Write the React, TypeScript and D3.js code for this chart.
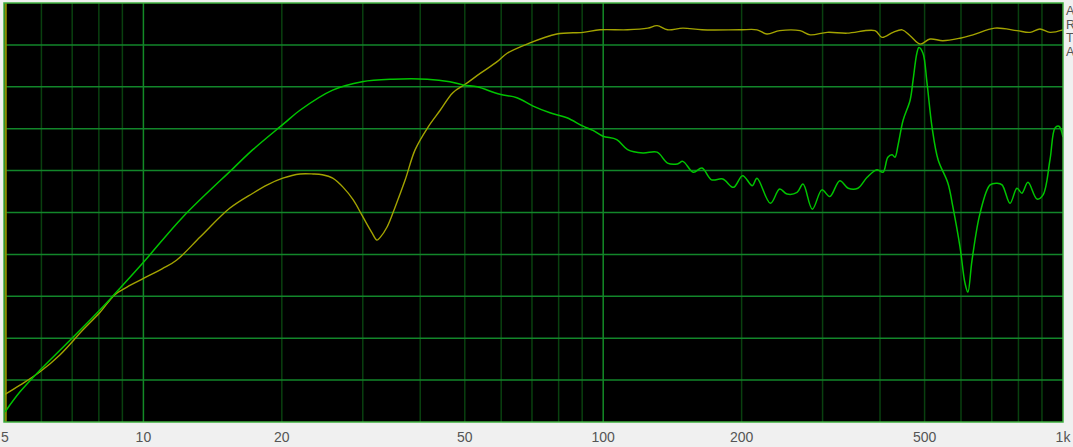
import React from "react";
import * as d3 from "d3";

// Frequency (Hz) / level (dB) readings
const greenFreq = [5, 5.39, 5.96, 6.82, 8.05, 8.67, 9.98, 12.2, 15.7, 17.3, 20.2, 21.9, 25.8, 29.9, 34.9, 41.4, 46.4, 49.8, 53.2, 59.6, 64.9, 70.4, 76.6, 83.4, 90.4, 95.0, 99.9, 107, 113, 122, 131, 138, 145, 149, 157, 164, 172, 182, 192, 201, 211, 216, 231, 242, 251, 264, 272, 285, 299, 311, 327, 341, 358, 375, 394, 406, 416, 425, 431, 438, 449, 465, 472, 481, 486, 496, 506, 519, 535, 562, 576, 597, 612, 621, 634, 660, 694, 719, 737, 767, 794, 814, 839, 878, 905, 937, 961, 980, 1000];
const greenDb = [51.2, 53.6, 56.2, 59.4, 63.4, 65.3, 69.0, 74.5, 80.3, 82.5, 85.6, 87.2, 89.6, 90.6, 90.9, 90.9, 90.6, 90.2, 90.0, 89.1, 88.7, 87.7, 86.9, 86.3, 85.3, 84.8, 84.1, 83.7, 82.5, 82.1, 82.2, 80.9, 80.8, 81.1, 79.8, 80.3, 78.9, 79.0, 78.0, 79.4, 78.2, 79.1, 76.1, 77.8, 77.2, 77.4, 78.4, 75.4, 77.7, 76.9, 78.8, 77.9, 77.9, 79.2, 80.1, 79.8, 81.6, 81.9, 81.6, 83.1, 86.0, 88.4, 90.8, 94.0, 94.7, 94.0, 90.5, 85.2, 81.3, 78.5, 75.7, 70.9, 66.6, 65.5, 69.3, 74.9, 78.3, 78.5, 78.3, 76.1, 77.9, 77.3, 78.6, 76.6, 77.1, 81.3, 85.1, 85.3, 84.0];

const yellowFreq = [5, 5.39, 5.96, 6.58, 7.39, 8.05, 8.67, 9.21, 9.98, 11.0, 11.8, 13.3, 15.4, 17.3, 18.6, 20.1, 21.9, 23.4, 24.5, 25.8, 27.2, 28.6, 30.0, 31.4, 32.2, 32.7, 33.9, 35.3, 37.1, 39.0, 41.6, 44.2, 47.1, 50.1, 54.0, 58.8, 61.8, 68.3, 79.3, 90.4, 98.4, 113, 125, 131, 138, 149, 164, 198, 216, 227, 242, 268, 282, 307, 339, 390, 404, 427, 447, 465, 489, 514, 548, 597, 637, 711, 794, 848, 891, 937, 1000];
const yellowDb = [53.3, 54.4, 56.0, 58.0, 61.0, 63.1, 65.2, 66.1, 67.1, 68.3, 69.3, 72.1, 75.5, 77.3, 78.3, 79.1, 79.6, 79.6, 79.5, 79.1, 78.0, 76.5, 74.5, 72.6, 71.7, 72.0, 73.3, 75.7, 78.9, 82.5, 85.2, 87.2, 89.3, 90.3, 91.6, 93.0, 94.0, 95.1, 96.3, 96.5, 96.8, 96.8, 97.0, 97.3, 96.8, 97.0, 96.8, 96.8, 96.8, 96.3, 96.7, 96.7, 96.2, 96.5, 96.4, 96.7, 95.9, 96.5, 96.8, 96.1, 95.1, 95.7, 95.5, 95.8, 96.2, 97.0, 96.7, 96.5, 96.9, 96.5, 96.8];

const tickLabels = [
  { f: 5, t: "5" },
  { f: 10, t: "10" },
  { f: 20, t: "20" },
  { f: 50, t: "50" },
  { f: 100, t: "100" },
  { f: 200, t: "200" },
  { f: 500, t: "500" },
  { f: 1000, t: "1k" },
];
const gridFreqs = [6, 7, 8, 9, 10, 20, 30, 40, 50, 60, 70, 80, 90, 100, 200, 300, 400, 500, 600, 700, 800, 900];
const majorFreqs = [10, 100];
const gridDb = [55, 60, 65, 70, 75, 80, 85, 90, 95];
const sideLetters = ["A", "R", "T", "A"];

export default function App() {
  const W = 1073, H = 447;
  const left = 5, right = 1063, top = 3, bottom = 422;
  const x = d3.scaleLog().domain([5, 1000]).range([left, right]);
  const y = d3.scaleLinear().domain([50, 100]).range([bottom, top]);
  const line = d3
    .line<[number, number]>()
    .x((d) => x(d[0]))
    .y((d) => y(d[1]))
    .curve(d3.curveCatmullRom.alpha(0.5));
  const green = greenFreq.map((f, i) => [f, greenDb[i]] as [number, number]);
  const yellow = yellowFreq.map((f, i) => [f, yellowDb[i]] as [number, number]);

  return (
    <svg width={W} height={H} style={{ position: "absolute", left: 0, top: 0 }}>
      <rect x={0} y={0} width={W} height={H} fill="#f0f0f0" />
      <rect x={left - 1} y={top} width={right - left + 1} height={bottom - top} fill="#000" />
      <defs>
        <clipPath id="plot">
          <rect x={left} y={top} width={right - left} height={bottom - top} />
        </clipPath>
      </defs>
      {gridFreqs.map((f) => (
        <line
          key={"v" + f}
          x1={x(f)}
          x2={x(f)}
          y1={top}
          y2={bottom}
          stroke={majorFreqs.includes(f) ? "#138a26" : "#09400f"}
          strokeWidth={1.5}
        />
      ))}
      {gridDb.map((v) => (
        <line key={"h" + v} x1={left} x2={right} y1={y(v)} y2={y(v)} stroke="#12862a" strokeWidth={1.5} />
      ))}
      <line x1={left + 0.8} x2={left + 0.8} y1={top} y2={bottom} stroke="#8c8c00" strokeWidth={2} />
      <g clipPath="url(#plot)">
        <path d={line(yellow) || ""} fill="none" stroke="#a3a300" strokeWidth={1.4} />
        <path d={line(green) || ""} fill="none" stroke="#00c400" strokeWidth={1.5} />
      </g>
      <rect
        x={left - 1}
        y={top}
        width={right - left + 1}
        height={bottom - top}
        fill="none"
        stroke="#3fae3f"
        strokeWidth={1.5}
      />
      {tickLabels.map((d) => (
        <text
          key={d.t}
          x={x(d.f)}
          y={442}
          textAnchor="middle"
          fontFamily="Liberation Sans, Arial, sans-serif"
          fontSize={14}
          fill="#555"
        >
          {d.t}
        </text>
      ))}
      {sideLetters.map((s, i) => (
        <text
          key={i}
          x={1066}
          y={15 + i * 13.5}
          fontFamily="Liberation Sans, Arial, sans-serif"
          fontSize={12.5}
          fill="#555"
        >
          {s}
        </text>
      ))}
    </svg>
  );
}
